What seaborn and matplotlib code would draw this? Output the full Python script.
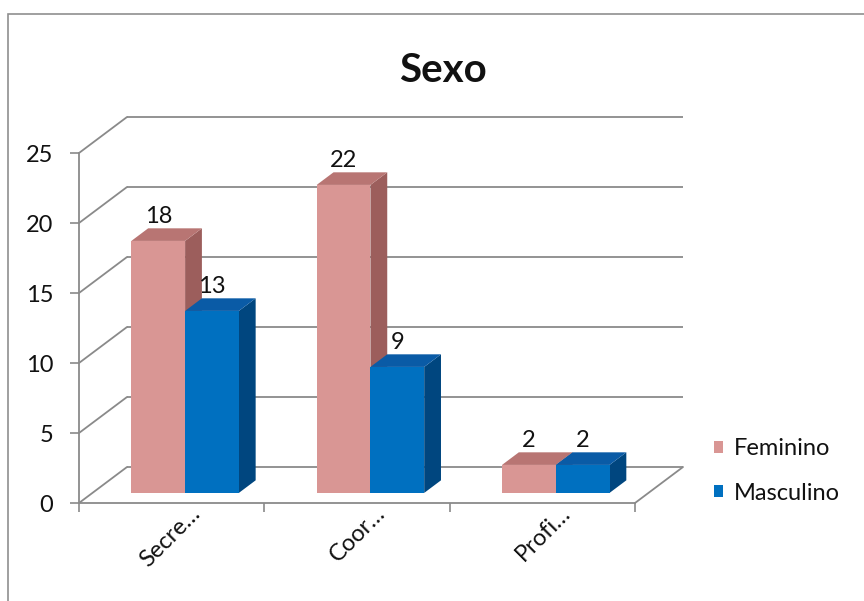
import numpy as np
import pandas as pd
import matplotlib
matplotlib.use('Agg')
import matplotlib.pyplot as plt
import seaborn as sns
from matplotlib.patches import Polygon, Rectangle
from matplotlib.transforms import Affine2D

# data
categories = ['Secre…', 'Coor…', 'Profi…']
series = ['Feminino', 'Masculino']
feminino = [18, 22, 2]
masculino = [13, 9, 2]
yticks = [0, 5, 10, 15, 20, 25]

front_colors = ['#D99694', '#0070C0']
top_colors = ['#B87573', '#0A5BA6']
side_colors = ['#9C5E5C', '#00467F']
grid_c = '#8a8a8a'
fs = 17

df = pd.DataFrame({
    'cargo': categories * 2,
    'sexo': [series[0]] * len(categories) + [series[1]] * len(categories),
    'n': feminino + masculino,
})

sns.set_style('white')
plt.rcParams['font.family'] = ['Lato', 'DejaVu Sans']
plt.rcParams['text.color'] = '#111111'

fig = plt.figure(figsize=(8.64, 6.01), dpi=100)
ax = fig.add_axes([79 / 864, 98 / 601, 556 / 864, 350 / 601])

sns.barplot(data=df, x='cargo', y='n', hue='sexo', palette=front_colors,
            width=0.58, saturation=1, errorbar=None, legend=False, ax=ax)
ax.set_xlim(-0.5, len(categories) - 0.5)
ax.set_ylim(yticks[0], yticks[-1])
ax.set_xlabel('')
ax.set_ylabel('')

# fake 3d depth (pixels), converted to data units
depth_px = np.array([48.0, 36.0])
p0 = ax.transData.transform((0, 0))
p1 = ax.transData.transform((1, 1))
ddx = depth_px[0] / (p1[0] - p0[0])
ddy = depth_px[1] / (p1[1] - p0[1])
fa, fb = 0.28, 0.63  # front / back of the bars inside the floor

x_lo, x_hi = ax.get_xlim()
for v in yticks:
    ax.plot([x_lo + ddx, x_hi + ddx], [v + ddy, v + ddy], color=grid_c, lw=1.3,
            clip_on=False, zorder=1, solid_capstyle='butt')
    ax.plot([x_lo, x_lo + ddx], [v, v + ddy], color=grid_c, lw=1.3,
            clip_on=False, zorder=1)
ax.plot([x_hi, x_hi + ddx], [0, ddy], color=grid_c, lw=1.3, clip_on=False, zorder=1)

# bars: front face from seaborn, top and side added
for k, cont in enumerate(ax.containers):
    for i, bar in enumerate(cont):
        z = 3 + i * 2 + k
        x0 = bar.get_x()
        x1 = x0 + bar.get_width()
        h = bar.get_height()
        bar.set_transform(ax.transData + Affine2D().translate(fa * depth_px[0], fa * depth_px[1]))
        bar.set_zorder(z + 0.2)
        bar.set_edgecolor('none')
        bar.set_clip_on(False)
        top = [(x0 + fa * ddx, h + fa * ddy), (x1 + fa * ddx, h + fa * ddy),
               (x1 + fb * ddx, h + fb * ddy), (x0 + fb * ddx, h + fb * ddy)]
        side = [(x1 + fa * ddx, fa * ddy), (x1 + fb * ddx, fb * ddy),
                (x1 + fb * ddx, h + fb * ddy), (x1 + fa * ddx, h + fa * ddy)]
        ax.add_patch(Polygon(top, closed=True, fc=top_colors[k], ec='none',
                             zorder=z + 0.1, clip_on=False))
        ax.add_patch(Polygon(side, closed=True, fc=side_colors[k], ec='none',
                             zorder=z, clip_on=False))
        ax.annotate(str(int(h)), (x0 + (x1 - x0) / 2, h),
                    xytext=(fa * depth_px[0], fa * depth_px[1] + 18),
                    textcoords='offset pixels', ha='center', va='baseline',
                    fontsize=fs, zorder=20, annotation_clip=False)

for s in ['top', 'right']:
    ax.spines[s].set_visible(False)
for s in ['left', 'bottom']:
    ax.spines[s].set_color(grid_c)
    ax.spines[s].set_linewidth(1.3)

ax.set_yticks(yticks)
ax.tick_params(axis='y', left=True, length=6.5, width=1.2, color=grid_c,
               pad=12, labelsize=fs, labelcolor='#111111')

bounds = np.arange(len(categories) + 1) - 0.5
ax.set_xticks(bounds, labels=[''] * len(bounds))
ax.set_xticks(np.arange(len(categories)), labels=categories, minor=True)
ax.tick_params(axis='x', which='major', bottom=True, length=6.5, width=1.2, color=grid_c)
ax.tick_params(axis='x', which='minor', bottom=True, length=0, pad=2,
               labelsize=fs, labelcolor='#111111')
for lab in ax.get_xticklabels(minor=True):
    lab.set_rotation(45)
    lab.set_rotation_mode('anchor')
    lab.set_ha('right')
    lab.set_va('center')
    lab.set_transform(lab.get_transform() + Affine2D().translate(25, -4))

handles = [Rectangle((0, 0), 1, 1, fc=c, ec='none') for c in front_colors]
fig.legend(handles, series, loc='upper left', bbox_to_anchor=(714 / 864, 1 - 438 / 601),
           frameon=False, fontsize=fs, handlelength=0.4, handleheight=0.4,
           handletextpad=0.45, labelspacing=1.0, borderpad=0, borderaxespad=0)

fig.text(443 / 864, 1 - 71 / 601, 'Sexo', ha='center', va='center',
         fontsize=29, fontweight='bold')

fig.patches.append(Rectangle((8 / 864, -0.05), 1.0, 1 - 14 / 601 + 0.05,
                             transform=fig.transFigure, fill=False,
                             ec='#8f8f8f', lw=1.2))

fig.savefig('out.png', dpi=100)
